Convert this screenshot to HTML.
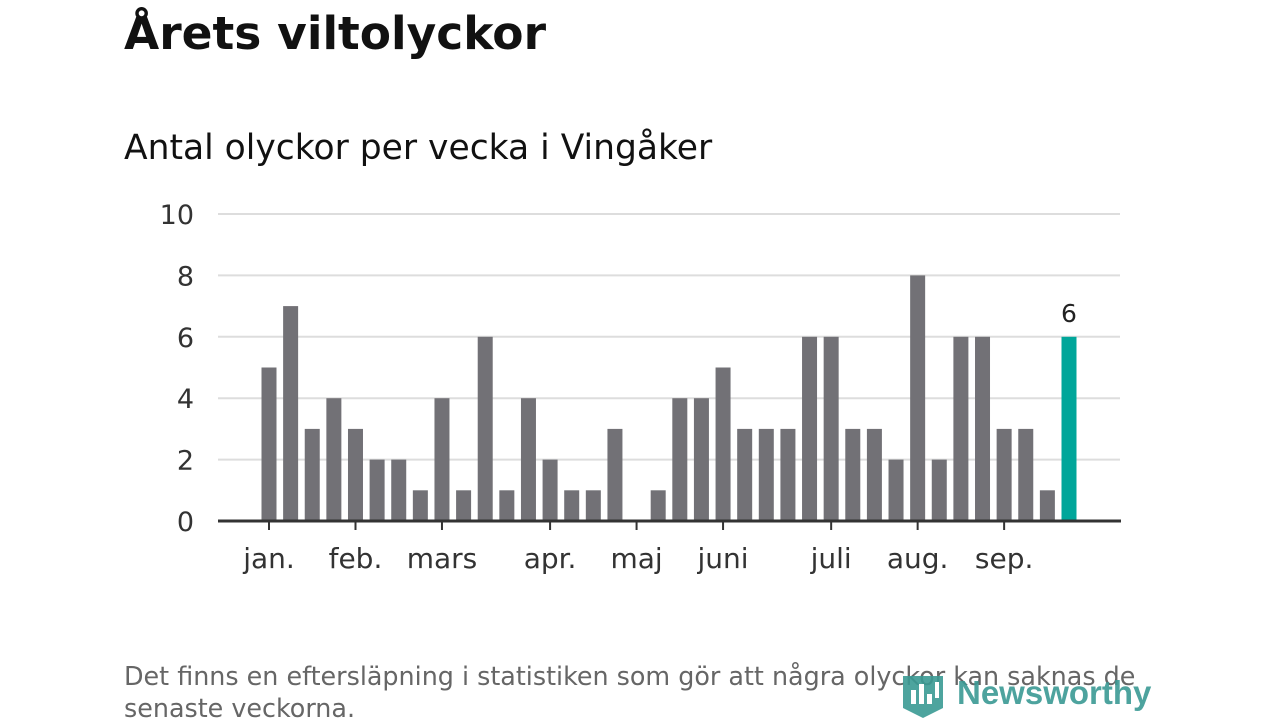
<!DOCTYPE html>
<html><head><meta charset="utf-8"><style>
body{margin:0;width:1280px;height:720px;background:#fff;font-family:"DejaVu Sans","Liberation Sans",sans-serif;overflow:hidden;position:relative}
h1{position:absolute;left:124px;top:7px;margin:0;font-size:45.5px;font-weight:bold;color:#111}
.sub{position:absolute;left:124px;top:128px;font-size:34.5px;color:#111}
.note{position:absolute;left:124px;top:660px;font-size:25.4px;color:#666;line-height:32px;width:1040px}
.logo{position:absolute;left:903px;top:670px}
</style></head><body>
<h1>Årets viltolyckor</h1>
<div class="sub">Antal olyckor per vecka i Vingåker</div>
<svg id="chart" width="1280" height="720" style="position:absolute;left:0;top:0"></svg>
<div class="note">Det finns en eftersläpning i statistiken som gör att några olyckor kan saknas de senaste veckorna.</div>
<div class="logo">
<svg width="260" height="50"><path d="M0 6 h40 v32 l-20 10 l-20 -10z" fill="#3a9a94" opacity="0.9"/><rect x="8" y="20" width="5" height="14" fill="#fff"/><rect x="16" y="14" width="5" height="20" fill="#fff"/><rect x="24" y="24" width="5" height="10" fill="#fff"/><rect x="32" y="12" width="4" height="16" fill="#fff"/>
<text x="54" y="34" font-size="33" font-weight="bold" fill="#3a9a94" opacity="0.9" font-family="Liberation Sans, sans-serif">Newsworthy</text></svg></div>
<script>
const values=[5,7,3,4,3,2,2,1,4,1,6,1,4,2,1,1,3,0,1,4,4,5,3,3,3,6,6,3,3,2,8,2,6,6,3,3,1,6];
const yTicks=[0,2,4,6,8,10];
const months=["jan.","feb.","mars","apr.","maj","juni","juli","aug.","sep."];
const monthWeeks=[0,4,8,13,17,21,26,30,34];
const svg=document.getElementById('chart');const NS='http://www.w3.org/2000/svg';
const x0=269,step=(1069-269)/37,y0=521,yU=30.7;
const X=i=>x0+i*step, Y=v=>y0-v*yU;
function mk(t,a){const e=document.createElementNS(NS,t);for(const k in a)e.setAttribute(k,a[k]);svg.appendChild(e);return e;}
yTicks.forEach(v=>{
 if(v>0){const g=mk('line',{x1:218,x2:1120,y1:Y(v),y2:Y(v),stroke:'#ddd','stroke-width':2});
 
 }
 const t=mk('text',{x:194,y:Y(v)+10,'text-anchor':'end','font-size':27,fill:'#333','font-family':'DejaVu Sans, sans-serif'});t.textContent=v;
 
 
});
values.forEach((v,i)=>{
 const last=i===values.length-1;
 const r=mk('rect',{x:X(i)-7.5,y:Y(v),width:15,height:v*yU,fill:last?'#00a69a':'#727176'});
 
 
 if(last){const t=mk('text',{x:X(i),y:Y(v)-15,'text-anchor':'middle','font-size':25,fill:'#222','font-family':'DejaVu Sans, sans-serif'});t.textContent=v;
 
 }
});
const ax=mk('line',{x1:218,x2:1121,y1:y0,y2:y0,stroke:'#333','stroke-width':3});


months.forEach((m,j)=>{
 const x=X(monthWeeks[j]);
 const tk=mk('line',{x1:x,x2:x,y1:y0,y2:y0+9,stroke:'#333','stroke-width':2});
 
 
 const t=mk('text',{x:x,y:568,'text-anchor':'middle','font-size':28,fill:'#333','font-family':'DejaVu Sans, sans-serif'});t.textContent=m;
 
 
});
</script>
</body></html>
